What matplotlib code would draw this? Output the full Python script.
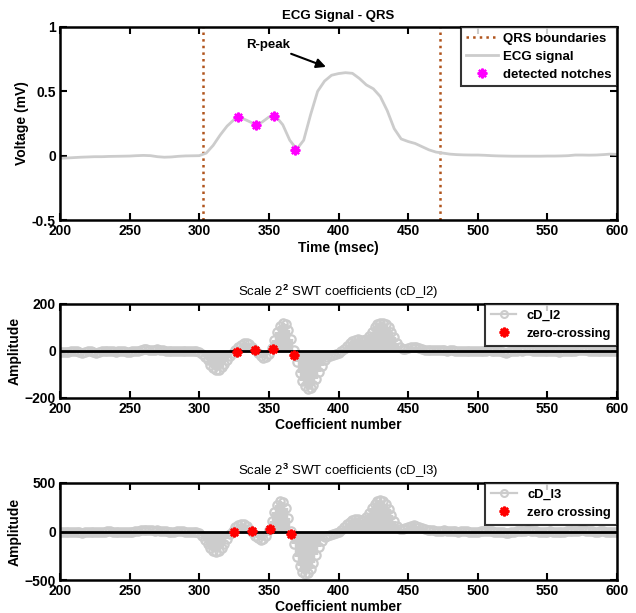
import numpy as np
import matplotlib
matplotlib.use("Agg")
import matplotlib.pyplot as plt
from matplotlib.lines import Line2D
from matplotlib.legend_handler import HandlerLine2D

plt.rcParams['font.family'] = ['Liberation Sans', 'DejaVu Sans']
plt.rcParams['font.weight'] = 'bold'
plt.rcParams['mathtext.fontset'] = 'custom'
plt.rcParams['mathtext.rm'] = 'Liberation Sans'
plt.rcParams['mathtext.bf'] = 'Liberation Sans:bold'

# ---------------- data ----------------
ecg_t = list(range(200, 601, 5))
ecg_v = [-0.02, -0.018, -0.015, -0.012, -0.01, -0.008, -0.008, -0.006, -0.005, -0.004,
         -0.003, 0.0, 0.002, 0.0, -0.008, -0.012, -0.01, -0.005, -0.002, -0.001,
         0.0, 0.02, 0.08, 0.16, 0.23, 0.28, 0.295, 0.27, 0.245, 0.26,
         0.3, 0.305, 0.24, 0.12, 0.05, 0.12, 0.32, 0.5, 0.58, 0.625,
         0.638, 0.645, 0.64, 0.6, 0.55, 0.52, 0.46, 0.35, 0.21, 0.13,
         0.11, 0.095, 0.07, 0.045, 0.028, 0.02, 0.012, 0.008, 0.006, 0.005,
         0.005, 0.003, 0.0, -0.002, -0.003, -0.004, -0.004, -0.004, -0.004, -0.004,
         -0.003, -0.003, -0.002, 0.0, 0.005, 0.005, 0.004, 0.005, 0.008, 0.012,
         0.01]
qrs_bounds = [303, 473]
notch_t = [328, 341, 354, 369]
notch_v = [0.30, 0.24, 0.31, 0.045]
rpeak_xy = (391, 0.69)
rpeak_text_xy = (365, 0.86)

coef_n = list(range(200, 601, 2))
cd_l2 = [-3, -4, -5, -3, -1, 0, -2, -6, -8, -5, -2, -1, -4, -7, -5, -2, 0, 1, 0, -2,
         -3, -1, 0, -2, -5, -3, -1, 0, 2, 4, 7, 8, 6, 4, 5, 7, 5, 3, 2, 1,
         0, 1, 2, 1, 0, -1, 0, 1, 0, -2,
         -5, -12, -25, -40, -58, -72, -80, -80, -70, -55, -38, -22, -8, 5, 17, 27, 32, 33, 28, 18,
         5, -8, -20, -28, -27, -12, 12, 45, 80, 108, 120, 115, 90, 50, 5, -45, -92, -128, -150, -160,
         -158, -145, -120, -90, -62, -40, -26, -20, -17, -14, -8,
         -2, 8, 20, 32, 42, 48, 50, 46, 45, 52, 65, 82, 100, 113, 118, 120, 115, 100, 80, 58,
         35, 18, 10, 10, 14, 17, 18, 16, 12, 8, 6, 5, 5, 4, 3, 4, 5, 3, 2, 3,
         4, 2, 0, 1, 2, 0, -1, 0, 1, 0,
         -1, 0, 2, 3, 1, 0, -1, -2, -4, -7, -5, -2, 0, 2, 3, 2, 4, 6, 4, 2,
         0, -1, -2, -1, 0, 1, 0, -2, -4, -2, 0, 1, 2, 1, 2, 4, 6, 5, 3, 1,
         0, -1, 0, 1, 0, -1, -2, -1, 0, -2]
zc2_n = [327, 340, 353, 368]
zc2_v = [-5, 3, 8, -15]

cd_l3 = [-5, -8, -10, -8, -5, -3, -6, -10, -12, -10, -6, -4, -6, -9, -7, -4, -1, 2, 1, -2,
         -4, -3, -1, -3, -6, -4, 0, 4, 8, 12, 16, 18, 16, 12, 10, 11, 9, 5, 2, 0,
         -2, -1, 1, 2, 1, -1, -2, -1, -2, -8,
         -20, -45, -85, -130, -170, -200, -210, -200, -170, -130, -80, -30, 10, 45, 70, 80, 75, 55, 25, -10,
         -45, -70, -85, -80, -45, 20, 110, 200, 275, 310, 300, 240, 140, 10, -130, -260, -360, -420, -440, -430,
         -390, -320, -240, -160, -100, -60, -45, -38, -30, -18, 0,
         20, 45, 75, 100, 120, 130, 125, 115, 120, 150, 195, 245, 285, 310, 320, 310, 280, 230, 170, 110,
         60, 30, 25, 35, 50, 60, 65, 60, 50, 38, 28, 20, 15, 12, 10, 8, 10, 12, 10, 8,
         6, 3, 0, 2, 4, 2, -1, -3, -1, 0,
         2, 5, 7, 6, 3, 0, -3, -6, -10, -14, -12, -7, -2, 3, 6, 8, 10, 12, 10, 6,
         2, -1, -4, -3, 0, 2, 0, -4, -8, -5, -1, 2, 5, 4, 6, 10, 14, 12, 8, 4,
         1, -2, 0, 3, 2, -1, -4, -3, -1, -5]
zc3_n = [325, 338, 351, 366]
zc3_v = [-10, 5, 30, -30]

GRAY = (0.8, 0.8, 0.8)
BROWN = '#b0541c'
ASTER = (8, 2, 0)

fig = plt.figure(figsize=(6.36, 6.13), dpi=100)
W, H = 636, 613

def add_ax(left, top, right, bottom):
    return fig.add_axes([left / W, 1 - bottom / H, (right - left) / W, (bottom - top) / H])

ax1 = add_ax(60, 27, 617, 220)
ax2 = add_ax(60, 304, 617, 398)
ax3 = add_ax(60, 483, 617, 580)


class EndMarkerHandler(HandlerLine2D):
    def get_xdata(self, legend, xdescent, ydescent, width, height, fontsize):
        xd, xm = super().get_xdata(legend, xdescent, ydescent, width, height, fontsize)
        return xd, xd[-1:]


def style(ax):
    for s in ax.spines.values():
        s.set_linewidth(1.8)
    ax.tick_params(direction='in', top=True, right=True, length=5, width=1.5,
                   labelsize=10, pad=3)
    for lab in ax.get_xticklabels() + ax.get_yticklabels():
        lab.set_fontweight('bold')

# --- ECG panel ---
for i, b in enumerate(qrs_bounds):
    ax1.axvline(b, ls=':', color=BROWN, lw=1.8, label='QRS boundaries' if i == 0 else None)
ax1.plot(ecg_t, ecg_v, color=GRAY, lw=2, label='ECG signal')
ax1.plot(notch_t, notch_v, ls='none', marker=ASTER, ms=7, mew=1.6,
         color='magenta', label='detected notches')
ax1.annotate('R-peak', xy=rpeak_xy, xytext=rpeak_text_xy, ha='right', va='center',
             fontsize=9.5, fontweight='bold',
             arrowprops=dict(arrowstyle='-|>', color='k', lw=1.5, mutation_scale=14,
                             shrinkA=0, shrinkB=0))
ax1.set_xlim(200, 600)
ax1.set_ylim(-0.5, 1)
ax1.set_xticks(range(200, 601, 50))
ax1.set_yticks([-0.5, 0, 0.5, 1])
ax1.set_yticklabels(['-0.5', '0', '0.5', '1'])
ax1.set_title('ECG Signal - QRS', fontsize=9.5, fontweight='bold', pad=6)
ax1.set_xlabel('Time (msec)', fontsize=10, fontweight='bold', labelpad=2)
ax1.set_ylabel('Voltage (mV)', fontsize=10, fontweight='bold', labelpad=2)
leg = ax1.legend(loc='upper right', fontsize=9.5, frameon=True, fancybox=False,
                 borderaxespad=0, handlelength=2.4, handletextpad=0.4,
                 labelspacing=0.45, borderpad=0.4)
leg.get_frame().set_edgecolor('k')
leg.get_frame().set_linewidth(1.5)
style(ax1)

# --- coefficient panels ---
def coef_panel(ax, y, zn, zv, lim, name, zlabel, title):
    ml, sl, bl = ax.stem(coef_n, y, basefmt='k-')
    plt.setp(sl, color=GRAY, lw=3.2)
    plt.setp(ml, color=GRAY, marker='o', mfc='none', ms=6, mew=1.6)
    plt.setp(bl, color='k', lw=2, zorder=5)
    ax.plot(zn, zv, ls='none', marker=ASTER, ms=7, mew=1.8, color='red', zorder=6)
    ax.set_xlim(200, 600)
    ax.set_ylim(-lim, lim)
    ax.set_xticks(range(200, 601, 50))
    ax.set_yticks([-lim, 0, lim])
    ax.set_title(title, fontsize=9.5, fontweight='normal', pad=6)
    ax.set_xlabel('Coefficient number', fontsize=10, fontweight='bold', labelpad=1)
    ax.set_ylabel('Amplitude', fontsize=10, fontweight='bold', labelpad=2)
    h1 = Line2D([], [], color=GRAY, lw=1.6, marker='o', mfc='none', ms=5, mew=1.5)
    h2 = Line2D([], [], ls='none', marker=ASTER, ms=7, mew=1.8, color='red')
    lg = ax.legend([h1, h2], [name, zlabel], loc='upper right', fontsize=9.3,
                   fancybox=False, borderaxespad=0, handlelength=2.0,
                   handletextpad=0.8, labelspacing=0.45, borderpad=0.45,
                   handler_map={h1: EndMarkerHandler(numpoints=1)})
    lg.get_frame().set_edgecolor('k')
    lg.get_frame().set_linewidth(1.5)
    style(ax)

coef_panel(ax2, cd_l2, zc2_n, zc2_v, 200, 'cD_l2', 'zero-crossing',
           r'Scale 2$^{2}$ SWT coefficients (cD_l2)')
coef_panel(ax3, cd_l3, zc3_n, zc3_v, 500, 'cD_l3', 'zero crossing',
           r'Scale 2$^{3}$ SWT coefficients (cD_l3)')

fig.savefig('out.png', dpi=100)
